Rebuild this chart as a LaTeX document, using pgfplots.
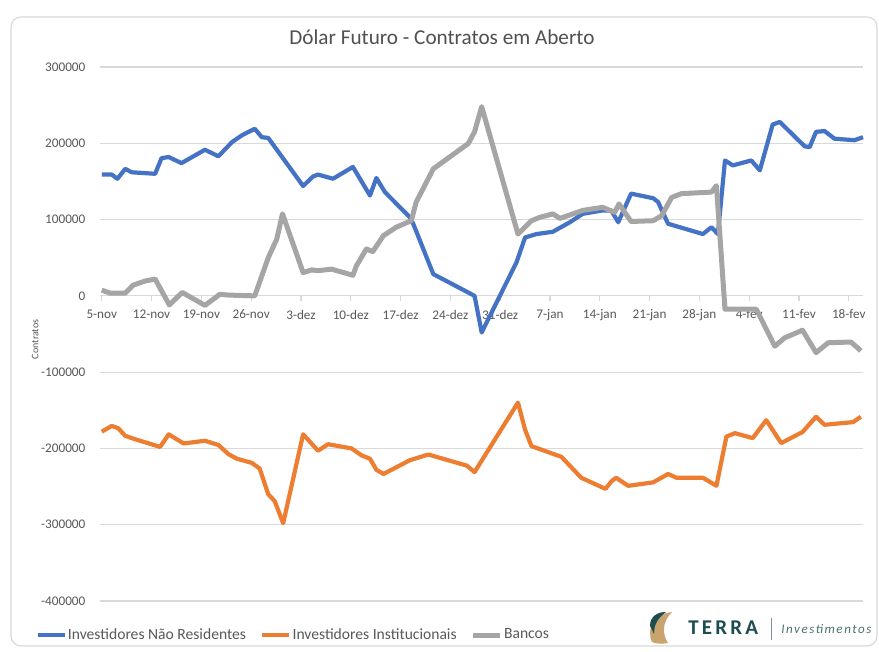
\documentclass[border=0pt]{standalone}
\usepackage{fontspec}
\setmainfont{Carlito}
\usepackage{pgfplots}
\pgfplotsset{compat=1.18}
\definecolor{cblue}{HTML}{4472C4}
\definecolor{corange}{HTML}{ED7D31}
\definecolor{cgray}{HTML}{A5A5A5}
\definecolor{ctext}{HTML}{595959}
\definecolor{cgrid}{HTML}{D9D9D9}
\definecolor{terrateal}{HTML}{1E4D4F}
\definecolor{terragold}{HTML}{C9A46E}
\begin{document}
\begin{tikzpicture}
\path[use as bounding box] (0,0) rectangle (439.5pt,326pt);
\fill[white] (0,0) rectangle (439.5pt,326pt);
\draw[color=cgrid, line width=0.6pt, rounded corners=5pt] (5.5pt,3pt) rectangle (438.5pt,317.5pt);
\begin{axis}[
  at={(50pt,25.5pt)}, anchor=south west,
  scale only axis, width=381.5pt, height=267pt,
  xmin=-0.25, xmax=107, ymin=-400000, ymax=300000,
  clip=false,
  axis x line=middle, axis y line=left,
  axis line style={-, draw=cgrid, line width=0.6pt},
  y axis line style={draw=none},
  hide obscured x ticks=false,
  scaled y ticks=false,
  xtick={0,7,...,105},
  xticklabels={5-nov,12-nov,19-nov,26-nov,3-dez,10-dez,17-dez,24-dez,31-dez,7-jan,14-jan,21-jan,28-jan,4-fev,11-fev,18-fev},
  ytick={-400000,-300000,-200000,-100000,0,100000,200000,300000},
  yticklabels={-400000,-300000,-200000,-100000,0,100000,200000,300000},
  tick align=outside, major tick length=2.5pt,
  x tick style={draw=cgrid, line width=0.6pt},
  y tick style={draw=none},
  ticklabel style={font=\fontsize{6.6}{8}\selectfont, text=ctext},
  xticklabel style={yshift=-1pt},
  yticklabel style={xshift=-1.3pt},
  ymajorgrids, major grid style={draw=cgrid, line width=0.6pt},
  ylabel={Contratos},
  ylabel style={at={(axis description cs:-0.085,0.49)}, anchor=center, font=\fontsize{5}{6}\selectfont, text=ctext},
  legend columns=3,
  legend style={at={(axis description cs:-0.085,-0.064)}, anchor=west, draw=none, fill=none, inner sep=0pt,
    font=\fontsize{7.8}{9}\selectfont, text=ctext,
    nodes={inner xsep=0.6pt},
    /tikz/every even column/.append style={column sep=6.5pt}},
  legend image code/.code={\draw[#1] (0pt,0pt) -- (13.5pt,0pt);},
]
\addplot[cblue, line width=2.1pt, line join=round] table {
x y
0 159000
1.4 159000
2.2 153500
3.3 166500
4.2 162000
7.5 160000
8.4 180500
9.4 182000
11.2 174000
14.5 191500
16.4 183000
18.3 201500
19.7 210500
21.5 219000
22.5 208000
23.4 207000
28.3 144000
29.7 156500
30.4 159000
32.5 153500
35.3 169000
37.7 131500
38.6 154500
39.8 136000
43.3 103000
43.8 94000
46.6 28500
52.4 0
53.4 -48000
58.3 44000
59.5 76500
61.1 81000
63.4 84000
65.8 96500
67.6 107500
70.4 112000
71.6 112000
72.6 96500
74.4 134000
77.5 128000
78.2 123000
79.6 94500
84.5 81000
85.7 90000
86.6 81000
87.6 177500
88.7 171000
91.3 177500
92.5 164500
94.3 224500
95.3 228000
98.8 196000
99.5 195000
100.4 215000
101.6 216000
103.0 206000
105.8 204000
107.0 208000
};
\addlegendentry{Investidores Não Residentes}
\addplot[corange, line width=2.1pt, line join=round] table {
x y
0 -178000
1.4 -170500
2.3 -173500
3.3 -183500
4.7 -188000
8.2 -198000
9.4 -181500
11.5 -193500
14.5 -190000
16.4 -195500
17.8 -207500
19.0 -213500
21.1 -219000
22.2 -226500
23.4 -260000
24.3 -269000
25.5 -298000
28.3 -181500
30.4 -203000
31.8 -194500
35.1 -200000
36.5 -209000
37.7 -213500
38.6 -228000
39.6 -233500
43.3 -215500
45.9 -208000
51.3 -222500
52.4 -231000
58.5 -140000
59.5 -175500
60.4 -197000
64.6 -211000
67.4 -238500
70.8 -253000
71.7 -242500
72.3 -238500
74.0 -249000
77.5 -244500
79.6 -233500
80.8 -238500
84.5 -238500
86.4 -249000
87.8 -184500
89.0 -180000
91.5 -186500
93.4 -163000
95.5 -193000
98.5 -178500
100.4 -158500
101.6 -169000
105.6 -165500
106.7 -158500
};
\addlegendentry{Investidores Institucionais}
\addplot[cgray, line width=2.5pt, line join=round] table {
x y
0 7500
1.2 3500
3.3 3500
4.4 14000
6.1 19500
7.5 22000
9.5 -12000
11.3 4500
14.5 -12500
16.6 2000
17.8 1000
21.5 0
23.4 50000
24.6 74500
25.4 107500
28.3 30500
29.5 34000
30.4 33000
32.3 35000
35.3 27000
35.8 39500
37.2 61500
38.1 58000
39.6 79000
41.4 90000
43.5 98500
44.2 123000
46.6 166500
48.9 182000
51.5 199500
52.4 215000
53.4 248000
58.5 81000
60.4 98500
61.6 103000
63.4 107500
64.4 101500
67.6 112000
70.4 116000
72.1 109500
72.7 120500
74.4 97500
77.5 98500
78.7 105000
80.1 129000
81.5 134000
85.7 136000
86.4 144500
87.6 -17500
92.0 -17500
94.6 -66000
96.0 -55000
98.5 -45000
100.4 -74500
102.1 -61500
105.3 -60500
106.7 -72000
};
\addlegendentry{Bancos}
\end{axis}
\node[font=\fontsize{10.6}{12}\selectfont, text=ctext!90!black] at (221pt,307.5pt) {Dólar Futuro - Contratos em Aberto};
% logo
\fill[terragold] (326pt,5pt) .. controls (323pt,12pt) and (327pt,19pt) .. (336pt,20pt) .. controls (331pt,15pt) and (331pt,9pt) .. (334pt,4.5pt) .. controls (331pt,4pt) and (328pt,4pt) .. cycle;
\fill[terrateal] (325pt,13pt) .. controls (325pt,18pt) and (329pt,20pt) .. (333pt,20pt) .. controls (329pt,17pt) and (327pt,14pt) .. (327pt,9pt) -- cycle;
\node[anchor=west, inner sep=0pt, text=terrateal, font={\fontsize{10.5}{12}\selectfont\bfseries\addfontfeatures{LetterSpace=15}}] at (344pt,12pt) {TERRA};
\draw[terrateal!60, line width=0.5pt] (385.5pt,6pt) -- (385.5pt,17pt);
\node[anchor=west, inner sep=0pt, text=terrateal!80, font={\fontsize{6.5}{8}\selectfont\itshape\addfontfeatures{LetterSpace=12}}] at (390.5pt,11.5pt) {Investimentos};
\end{tikzpicture}
\end{document}
